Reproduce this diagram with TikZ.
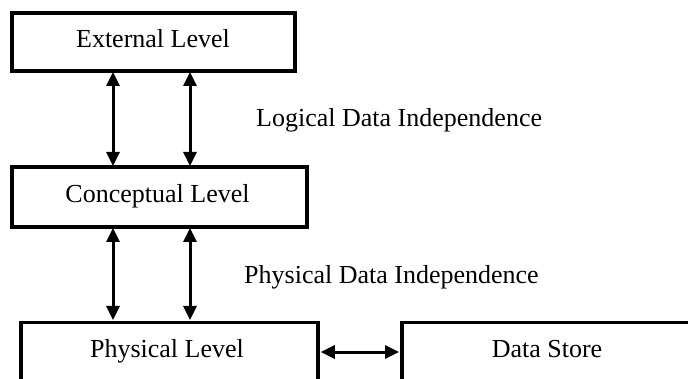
\documentclass[tikz,border=0pt]{standalone}
\usepackage{fontspec}
\setmainfont{Liberation Serif}
\usetikzlibrary{arrows.meta}
\begin{document}
\begin{tikzpicture}[x=1pt,y=-1pt,
  box/.style={draw, line width=3.5pt, rectangle, inner sep=0pt},
  txt/.style={font=\fontsize{26}{30}\selectfont, inner sep=0pt, anchor=base},
  link/.style={line width=3pt, {Triangle[length=14pt,width=13pt]}-{Triangle[length=14pt,width=13pt]}, shorten <=1pt, shorten >=1pt}]
\useasboundingbox (0,0) rectangle (688,379);
\clip (0,0) rectangle (688,379);
\fill[white] (0,0) rectangle (688,379);
% boxes
\node[box, minimum width=283pt, minimum height=58pt] (ext) at (153.5,42) {};
\node[box, minimum width=295pt, minimum height=60pt] (con) at (159.5,197) {};
\node[box, minimum width=297pt, minimum height=100pt, anchor=north] (phy) at (169.5,321) {};
\node[box, minimum width=400pt, minimum height=100pt, anchor=north west] (ds) at (400,321) {};
% texts
\node[txt] (extT) at (153,48) {External Level};
\node[txt] (conT) at (157.5,203) {Conceptual Level};
\node[txt] (phyT) at (167,357) {Physical Level};
\node[txt] (dsT) at (547,357) {Data Store};
\node[txt, anchor=base west] (ldi) at (256,127) {Logical Data Independence};
\node[txt, anchor=base west] (pdi) at (244,284) {Physical Data Independence};
% connectors
\coordinate (a1t) at (113,71); \coordinate (a1b) at (113,167);
\coordinate (a2t) at (190,71); \coordinate (a2b) at (190,167);
\coordinate (b1t) at (113,227); \coordinate (b1b) at (113,321);
\coordinate (b2t) at (190,227); \coordinate (b2b) at (190,321);
\draw[link] (a1t) -- (a1b);
\draw[link] (a2t) -- (a2b);
\draw[link] (b1t) -- (b1b);
\draw[link] (b2t) -- (b2b);
\draw[link] (phy.east |- 0,352) -- (ds.west |- 0,352);
\end{tikzpicture}
\end{document}
